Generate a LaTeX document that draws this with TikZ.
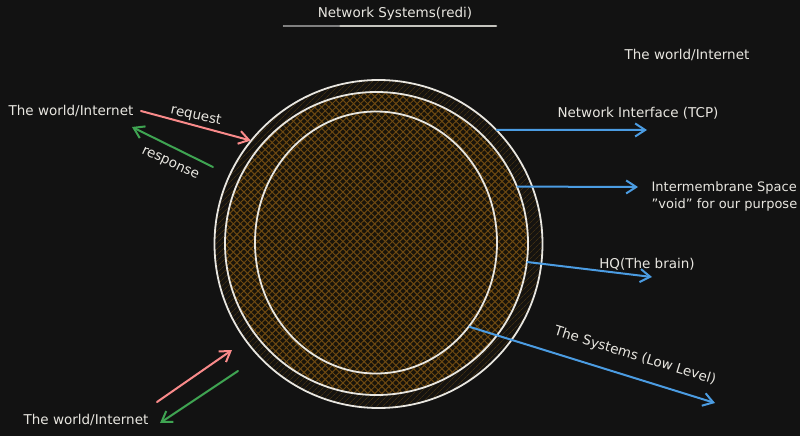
\documentclass[tikz,border=0pt]{standalone}
\usepackage{fontspec}
\setmainfont{DejaVu Sans}
\usepackage{tikz}
\usetikzlibrary{arrows.meta,positioning,shapes.geometric,patterns.meta}

\definecolor{bgdark}{HTML}{121212}
\definecolor{chalk}{HTML}{E8E6E0}
\definecolor{reqred}{HTML}{F98A8A}
\definecolor{resgreen}{HTML}{3FA452}
\definecolor{outblue}{HTML}{4B9CE2}
\definecolor{ringfill}{HTML}{151310}
\definecolor{ringhatch}{HTML}{3E2E12}
\definecolor{corefill}{HTML}{19140A}
\definecolor{corehatch}{HTML}{6E4A12}

\begin{document}
\begin{tikzpicture}[
    x = 1pt, y = -1pt, % pixel grid, y going down
    > = {Straight Barb[length=10pt,width=13pt]}, % arrow head style
    line cap = round,
    semithick % line style
    ]

    \tikzset{
    every node/.style = {text=chalk, font=\fontsize{13.5}{17}\selectfont},
    ring/.style = {circle, draw=chalk, line width=1.8pt, inner sep=0pt},
    link/.style = {->, line width=2pt}
    }

    \useasboundingbox (0,0) rectangle (800,436);
    \fill[bgdark] (0,0) rectangle (800,436);

    % the cell
    \node[ring, minimum size=328pt, preaction={fill=ringfill},
      pattern={Lines[angle=45,distance=4pt,line width=0.8pt]},
      pattern color=ringhatch] (outer) at (378.5,244) {};
    \node[ring, minimum size=303pt, preaction={fill=corefill},
      preaction={pattern={Lines[angle=45,distance=5pt,line width=1pt]}, pattern color=corehatch},
      pattern={Lines[angle=-45,distance=5pt,line width=1pt]},
      pattern color=corehatch] (membrane) at (376.5,243.5) {};
    \node[ellipse, draw=chalk, line width=1.8pt, inner sep=0pt,
      minimum width=242pt, minimum height=262pt] (hq) at (376,242.5) {};

    % title
    \node (title) at (395,14) {Network Systems(redi)};
    \draw[chalk!85!black, line width=2.5pt] (284,26) -- (496,26);
    \draw[gray, line width=2.5pt] (284,26) -- (339,26);

    % labels
    \node (sky) at (687,55) {The world/Internet};
    \node (world) at (71,111) {The world/Internet};
    \node (ground) at (86,420) {The world/Internet};
    \node (tcp) at (638,113) {Network Interface (TCP)};
    \node[align=left, anchor=west, font=\fontsize{13}{17}\selectfont] (void) at (648,196) {Intermembrane Space\\"void" for our purpose};
    \node (brain) at (647,264) {HQ(The brain)};
    \node[rotate=-17] (sys) at (635,356) {The Systems (Low Level)};
    \node[rotate=-12] (req) at (196,116) {request};
    \node[rotate=-25] (resp) at (170,164) {response};

    % free ends
    \coordinate (tcp tip) at (647,130);
    \coordinate (void tip) at (638,187);
    \coordinate (brain tip) at (652,277);
    \coordinate (sys tip) at (715,403);
    \coordinate (resp tail) at (213,167);
    \coordinate (resp head) at (132,127);
    \coordinate (up tail) at (157,402);
    \coordinate (up head) at (232,350);
    \coordinate (down tail) at (238,371);
    \coordinate (down head) at (160,423);

    \draw[link, outblue] (outer.44) -- (tcp tip);
    \draw[link, outblue] (membrane.22) -- (void tip);
    \draw[link, outblue] (membrane.-7) -- (brain tip);
    \draw[link, outblue] (hq.-42) -- (sys tip);
    \draw[link, reqred] ([xshift=4pt]world.east) -- (outer.141);
    \draw[link, resgreen] (resp tail) -- (resp head);
    \draw[link, reqred] (up tail) -- (up head);
    \draw[link, resgreen] (down tail) -- (down head);
\end{tikzpicture}
\end{document}
